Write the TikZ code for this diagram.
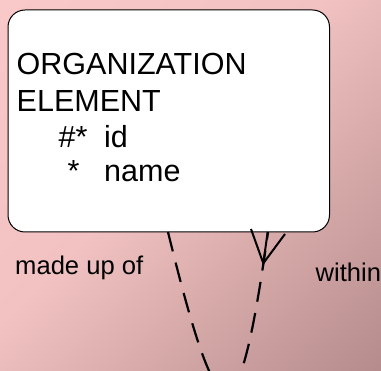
\documentclass[tikz,border=0pt]{standalone}
\usepackage{fontspec}
\setmainfont{Liberation Sans}
\definecolor{bglight}{RGB}{249,201,201}
\definecolor{bgmid}{RGB}{242,194,194}
\definecolor{bgdark}{RGB}{182,140,140}
\pgfdeclarehorizontalshading{bgshade}{100bp}{color(0bp)=(bglight); color(15bp)=(bglight); color(45bp)=(bgmid); color(85bp)=(bgdark); color(100bp)=(bgdark)}
\tikzset{
  entitybox/.style={draw=black, line width=1pt, fill=white, rounded corners=17pt, minimum width=321.5pt, minimum height=222pt, inner sep=0pt},
  enttext/.style={anchor=base west, inner sep=0pt, font=\fontsize{30.5}{36}\selectfont},
  lbltext/.style={anchor=base west, inner sep=0pt, font=\fontsize{25.6}{31}\selectfont},
  reldash/.style={line width=2.2pt, dash pattern=on 20pt off 11.5pt},
  crowfoot/.style={line width=2pt}
}
\begin{document}
\begin{tikzpicture}[x=1pt, y=-1pt]
\useasboundingbox (0,0) rectangle (381,371);
\shade[shading=bgshade, shading angle=-45] (0,0) rectangle (381,371);
\clip (0,0) rectangle (381,371);
\node[entitybox] (org) at (168.75,121) {};
\node[enttext] (t1) at (16.5,75) {ORGANIZATION};
\node[enttext] (t2) at (16.5,111.7) {ELEMENT};
\node[enttext] (t3) at (58.5,148) {\#*};
\node[enttext] (t4) at (104,148) {id};
\node[enttext] (t5) at (67.5,181.7) {*};
\node[enttext] (t6) at (104,181.7) {name};
\node[lbltext] (l1) at (15,275) {made up of};
\node[lbltext] (l2) at (315.5,281.7) {within};
\coordinate (ra) at (168,232);
\coordinate (rb) at (268,232);
\coordinate (rm) at (226,391.75);
\coordinate (cf) at (263.3,263.3);
\coordinate (cf1) at (251,229);
\coordinate (cf2) at (267.7,232);
\coordinate (cf3) at (285,234);
\draw[reldash] (ra) .. controls (194,338.5) and (212,391.75) .. (rm);
\draw[reldash, dash phase=12.5pt] (rb) .. controls (253,338.5) and (240.75,391.75) .. (rm);
\draw[crowfoot] (cf1) -- (cf) -- (cf2) (cf) -- (cf3);
\end{tikzpicture}
\end{document}
